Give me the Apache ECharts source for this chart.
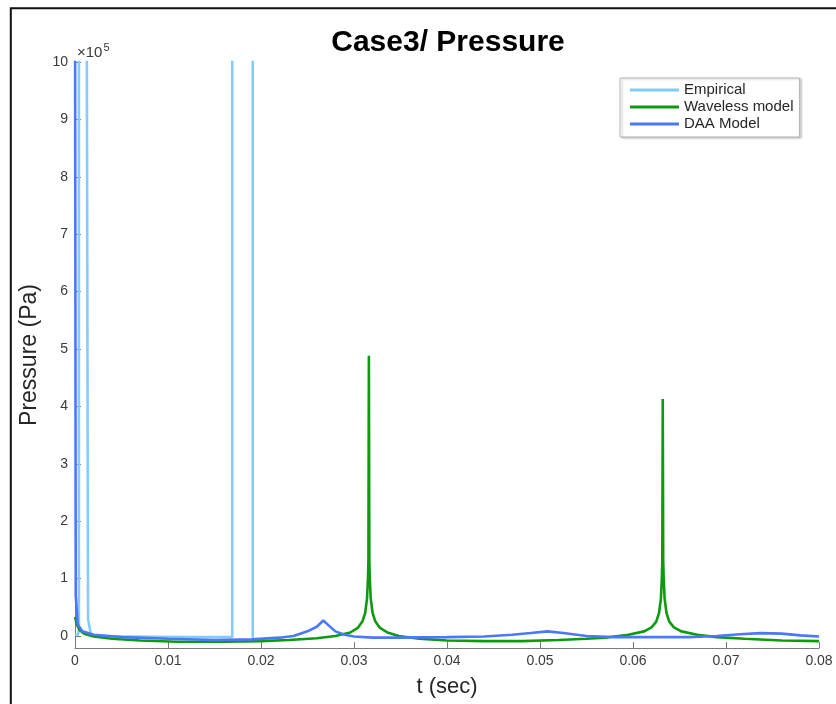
<!DOCTYPE html>
<html>
<head>
<meta charset="utf-8">
<script src="https://cdn.jsdelivr.net/npm/echarts@6/dist/echarts.min.js"></script>
<style>
  html, body { margin: 0; padding: 0; background: #ffffff; }
  #chart { width: 836px; height: 704px; }
</style>
</head>
<body>
<div id="chart"></div>
<script>
// Time in seconds, pressure in units of 1e5 Pa.
// Values above 10 run off the top of the plot and are clipped there.

const empiricalT = [0, 0.0003, 0.00042, 0.00042, 0.00125, 0.0014, 0.0017, 0.0025, 0.006, 0.012, 0.01691, 0.01691, 0.01911, 0.01911];
const empiricalP = [0.02, 0.02, 0.1, 12, 12, 0.3, 0.03, -0.01, -0.01, -0.02, -0.02, 12, 12, -0.03];

const wavelessT = [0, 0.0002, 0.0005, 0.001, 0.002, 0.004, 0.007, 0.011, 0.016, 0.020, 0.023, 0.026,
  0.028, 0.0296, 0.0304, 0.0309, 0.0312, 0.0314, 0.0315, 0.03155, 0.0316, 0.03165, 0.0317, 0.0318,
  0.032, 0.0323, 0.0328, 0.0336, 0.0348, 0.037, 0.040, 0.044, 0.048, 0.052, 0.055, 0.057,
  0.0595, 0.0612, 0.062, 0.0625, 0.0628, 0.063, 0.0631, 0.06315, 0.0632, 0.06325, 0.0633, 0.0634,
  0.0636, 0.0639, 0.0644, 0.0652, 0.0669, 0.069, 0.072, 0.076, 0.080];
const wavelessP = [0.33, 0.2, 0.1, 0.04, -0.01, -0.05, -0.08, -0.1, -0.1, -0.09, -0.07, -0.04,
  0.0, 0.06, 0.14, 0.25, 0.4, 0.65, 1.0, 1.3, 4.88, 1.3, 1.0, 0.65,
  0.4, 0.25, 0.14, 0.06, 0.0, -0.05, -0.08, -0.09, -0.09, -0.07, -0.05, -0.03,
  0.02, 0.08, 0.15, 0.25, 0.4, 0.65, 1.0, 1.3, 4.13, 1.3, 1.0, 0.65,
  0.4, 0.25, 0.15, 0.08, 0.02, -0.02, -0.05, -0.08, -0.09];

const daaT = [0, 0.00008, 0.0003, 0.0008, 0.002, 0.005, 0.010, 0.015, 0.019, 0.022, 0.0235,
  0.025, 0.026, 0.0267, 0.0273, 0.028, 0.029, 0.030, 0.032, 0.035, 0.040, 0.044, 0.047,
  0.049, 0.0508, 0.0525, 0.055, 0.058, 0.062, 0.066, 0.069, 0.0715, 0.0737, 0.076, 0.078, 0.080];
const daaP = [12, 0.7, 0.2, 0.08, 0.02, -0.02, -0.05, -0.07, -0.06, -0.03, 0.0,
  0.08, 0.16, 0.27, 0.18, 0.08, 0.02, -0.01, -0.03, -0.03, -0.02, -0.01, 0.02,
  0.05, 0.08, 0.05, 0.0, -0.02, -0.02, -0.02, 0.0, 0.03, 0.05, 0.04, 0.01, -0.01];

const xTicks = [0, 0.01, 0.02, 0.03, 0.04, 0.05, 0.06, 0.07, 0.08];
const yTicks = [0, 1, 2, 3, 4, 5, 6, 7, 8, 9, 10];

const seriesNames = ['Empirical', 'Waveless model', 'DAA Model'];
const seriesColors = ['#86cbfd', '#0d9a10', '#4a78fa'];

const zip = (ts, ps) => ts.map((t, i) => [t, ps[i]]);
const FONT = '"Liberation Sans", Arial, Helvetica, sans-serif';
const AXIS_COLOR = '#7a7a7a';
const LABEL_COLOR = '#3a3a3a';

const chart = echarts.init(document.getElementById('chart'), null, { renderer: 'canvas' });

chart.setOption({
  animation: false,
  backgroundColor: '#ffffff',
  textStyle: { fontFamily: FONT },
  grid: { left: 75, right: 17, top: 62, bottom: 56, containLabel: false },
  legend: {
    orient: 'vertical',
    left: 620,
    top: 78,
    padding: [4, 6, 5, 10],
    itemGap: 1,
    itemWidth: 49,
    itemHeight: 3,
    icon: 'rect',
    selectedMode: false,
    backgroundColor: '#ffffff',
    borderColor: '#b5b5b5',
    borderWidth: 1,
    borderRadius: 0,
    shadowColor: 'rgba(0,0,0,0.22)',
    shadowBlur: 2,
    shadowOffsetX: 2,
    shadowOffsetY: 1,
    textStyle: { fontFamily: FONT, fontSize: 15, color: '#262626', lineHeight: 16 },
    data: seriesNames
  },
  xAxis: {
    type: 'value',
    min: 0,
    max: 0.08,
    name: 't (sec)',
    nameLocation: 'middle',
    nameGap: 28,
    nameTextStyle: { fontFamily: FONT, fontSize: 22, color: '#262626' },
    axisLine: { show: true, onZero: false, lineStyle: { color: AXIS_COLOR, width: 1 } },
    axisTick: { show: true, inside: true, length: 6, customValues: xTicks, lineStyle: { color: AXIS_COLOR } },
    axisLabel: {
      customValues: xTicks,
      margin: 6,
      fontFamily: FONT,
      fontSize: 14,
      color: LABEL_COLOR,
      formatter: v => (v === 0 ? '0' : (+v).toFixed(2))
    },
    splitLine: { show: false }
  },
  yAxis: {
    type: 'value',
    min: -0.21,
    max: 10,
    name: 'Pressure (Pa)',
    nameLocation: 'middle',
    nameGap: 30,
    nameTextStyle: { fontFamily: FONT, fontSize: 23, color: '#262626' },
    axisLine: { show: true, onZero: false, lineStyle: { color: AXIS_COLOR, width: 1 } },
    axisTick: { show: true, inside: true, length: 6, customValues: yTicks, lineStyle: { color: AXIS_COLOR } },
    axisLabel: {
      customValues: yTicks,
      margin: 7,
      fontFamily: FONT,
      fontSize: 14,
      color: LABEL_COLOR,
      formatter: v => String(Math.round(v))
    },
    splitLine: { show: false }
  },
  graphic: [
    {
      type: 'rect',
      silent: true,
      shape: { x: 10.8, y: 8.3, width: 900, height: 800 },
      style: { fill: 'none', stroke: '#111111', lineWidth: 2 }
    },
    {
      type: 'text',
      silent: true,
      x: 448,
      y: 43,
      style: {
        text: 'Case3/ Pressure',
        font: 'bold 30px ' + FONT,
        fill: '#000000',
        align: 'center',
        verticalAlign: 'middle'
      }
    },
    {
      type: 'text',
      silent: true,
      x: 77,
      y: 53,
      style: {
        text: '×10{sup|5}',
        font: '15px ' + FONT,
        fill: LABEL_COLOR,
        align: 'left',
        verticalAlign: 'middle',
        rich: { sup: { fontSize: 11, fontFamily: FONT, verticalAlign: 'top', padding: [0, 0, 11, 1], fill: LABEL_COLOR } }
      }
    }
  ],
  series: [
    { name: seriesNames[0], data: zip(empiricalT, empiricalP), color: seriesColors[0] },
    { name: seriesNames[1], data: zip(wavelessT, wavelessP), color: seriesColors[1] },
    { name: seriesNames[2], data: zip(daaT, daaP), color: seriesColors[2] }
  ].map(s => ({
    type: 'line',
    name: s.name,
    data: s.data,
    showSymbol: false,
    symbol: 'none',
    clip: true,
    itemStyle: { color: s.color },
    lineStyle: { color: s.color, width: 2.6 }
  }))
});
</script>
</body>
</html>
